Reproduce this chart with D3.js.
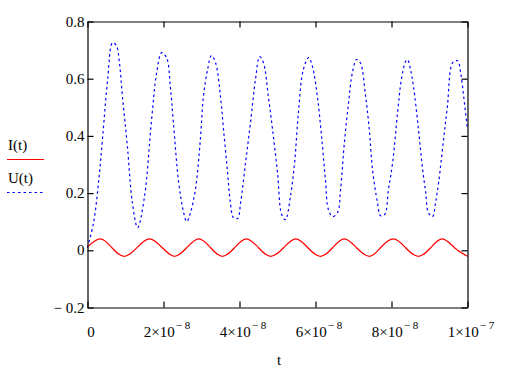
<!DOCTYPE html>
<html>
<head>
<meta charset="utf-8">
<script src="https://cdn.jsdelivr.net/npm/d3@7"></script>
<style>
  body { margin: 0; background: #fff; }
  svg text { font-family: "Liberation Serif", "Times New Roman", serif; }
</style>
</head>
<body>
<svg id="chart"></svg>
<script>
let width = 518;
let height = 371;

// time in ns
let tI = [0, 3.4, 6.5, 9.7, 13.1, 16.3, 19.7, 22.9, 26.1, 29.3, 32.4, 35.5, 38.7, 41.8, 45.0, 48.2,
    51.6, 54.8, 58.0, 61.3, 64.5, 67.6, 70.8, 74.2, 77.1, 80.5, 83.7, 87.1, 90.3, 93.4, 96.6, 100];
let iVals = [0.012, 0.040, 0.008, -0.021, 0.010, 0.040, 0.009, -0.021, 0.009, 0.040, 0.009, -0.021, 0.009, 0.040, 0.009, -0.021,
    0.009, 0.040, 0.009, -0.021, 0.009, 0.040, 0.009, -0.021, 0.009, 0.040, 0.009, -0.021, 0.009, 0.040, 0.009, -0.021];

let tU = [0, 1.6, 2.9, 4.0, 5.3, 6.6, 7.6, 8.4, 9.2, 10.5, 11.8, 13.2, 15.0, 16.8, 18.2, 19.5, 20.8, 21.8, 22.6, 24.0,
    25.3, 26.1, 27.1, 28.4, 29.7, 30.5, 31.6, 32.6, 33.7, 35.0, 35.8, 36.8, 37.6, 38.4, 39.5, 40.3, 41.6, 42.9, 44.2,
    45.3, 46.3, 47.6, 48.7, 50.0, 51.1, 52.1, 53.4, 54.5, 55.5, 56.8, 58.2, 59.2, 60.5, 61.6, 62.6, 63.4, 64.5, 65.8,
    66.6, 67.6, 68.7, 69.7, 70.8, 71.8, 73.2, 74.2, 75.0, 76.3, 77.1, 78.2, 79.2, 80.3, 81.6, 82.6, 83.7, 84.2, 85.0,
    85.8, 87.1, 88.2, 89.0, 89.7, 90.8, 91.6, 92.4, 93.7, 94.7, 96.1, 97.4, 98.2, 99.0, 100];
let uVals = [0.009, 0.097, 0.237, 0.398, 0.597, 0.726, 0.716, 0.656, 0.537, 0.363, 0.167, 0.079, 0.188, 0.447, 0.621, 0.691, 0.674, 0.572, 0.447, 0.237,
    0.132, 0.100, 0.132, 0.213, 0.387, 0.537, 0.632, 0.681, 0.656, 0.537, 0.422, 0.282, 0.167, 0.114, 0.111, 0.167, 0.307, 0.447, 0.597,
    0.677, 0.656, 0.537, 0.422, 0.272, 0.125, 0.107, 0.188, 0.307, 0.481, 0.632, 0.674, 0.642, 0.537, 0.398, 0.247, 0.142, 0.118, 0.132,
    0.212, 0.377, 0.516, 0.621, 0.667, 0.656, 0.537, 0.415, 0.282, 0.167, 0.121, 0.125, 0.212, 0.307, 0.481, 0.597, 0.660, 0.667, 0.632,
    0.572, 0.422, 0.282, 0.202, 0.132, 0.118, 0.167, 0.237, 0.387, 0.502, 0.656, 0.663, 0.621, 0.537, 0.422];

let yTicks = [-0.2, 0, 0.2, 0.4, 0.6, 0.8];
let yTickLabels = ["\u2212 0.2", "0", "0.2", "0.4", "0.6", "0.8"];
let xTicks = [0, 2e-8, 4e-8, 6e-8, 8e-8, 1e-7];
let xTickMant = ["0", "2\u00d710", "4\u00d710", "6\u00d710", "8\u00d710", "1\u00d710"];
let xTickExp = ["", "\u2212 8", "\u2212 8", "\u2212 8", "\u2212 8", "\u2212 7"];

let svg = d3.select("#chart")
    .attr("width", width)
    .attr("height", height);

let x = d3.scaleLinear().domain([0, 1e-7]).range([87, 467]);
let y = d3.scaleLinear().domain([-0.2, 0.8]).range([307, 21]);

let g = svg.append("g").attr("transform", "translate(0.5,0.5)");

// curves
let lineI = d3.line()
    .x((d, i) => x(tI[i] * 1e-9))
    .y(d => y(d))
    .curve(d3.curveNatural);
let lineU = d3.line()
    .x((d, i) => x(tU[i] * 1e-9))
    .y(d => y(d))
    .curve(d3.curveCatmullRom);

g.append("path")
    .attr("d", lineU(uVals))
    .attr("fill", "none")
    .attr("stroke", "#0000ff")
    .attr("stroke-width", 1.2)
    .attr("stroke-dasharray", "2.5,3");

g.append("path")
    .attr("d", lineI(iVals))
    .attr("fill", "none")
    .attr("stroke", "#ff0000")
    .attr("stroke-width", 1.2);

// frame with inward ticks
let axLeft = g.append("g").attr("transform", "translate(87,0)")
    .call(d3.axisLeft(y).tickValues(yTicks).tickSizeInner(-6).tickSizeOuter(0).tickPadding(3)
        .tickFormat((d, i) => yTickLabels[i]));
let axRight = g.append("g").attr("transform", "translate(467,0)")
    .call(d3.axisRight(y).tickValues(yTicks).tickSizeInner(-6).tickSizeOuter(0).tickFormat(""));
let axTop = g.append("g").attr("transform", "translate(0,21)")
    .call(d3.axisTop(x).tickValues(xTicks).tickSizeInner(-6).tickSizeOuter(0).tickFormat(""));
let axBottom = g.append("g").attr("transform", "translate(0,307)")
    .call(d3.axisBottom(x).tickValues(xTicks).tickSizeInner(-6).tickSizeOuter(0).tickFormat(""));

[axLeft, axRight, axTop, axBottom].forEach(a => {
    a.selectAll("path, line").attr("stroke", "#000").attr("stroke-width", 1.2);
});

axLeft.selectAll("text")
    .attr("font-family", "Liberation Serif")
    .attr("font-size", 15)
    .attr("fill", "#000")
    .attr("dy", "0.3em")
    .attr("x", -3);

// x tick labels with superscript exponents
let xl = svg.append("g");
xTicks.forEach((t, i) => {
    let txt = xl.append("text")
        .attr("x", x(t) + 4)
        .attr("y", 337)
        .attr("text-anchor", "middle")
        .attr("font-size", 15)
        .attr("fill", "#000");
    txt.append("tspan").text(xTickMant[i]);
    if (xTickExp[i]) {
        txt.append("tspan").attr("dy", -8).attr("dx", 1).attr("font-size", 11).text(xTickExp[i]);
    }
});

svg.append("text")
    .attr("x", 279)
    .attr("y", 365)
    .attr("text-anchor", "middle")
    .attr("font-size", 15)
    .text("t");

// legend
svg.append("text").attr("x", 8).attr("y", 150).attr("font-size", 15).text("I(t)");
svg.append("line").attr("x1", 7).attr("x2", 44).attr("y1", 159.5).attr("y2", 159.5)
    .attr("stroke", "#ff0000").attr("stroke-width", 1.2);
svg.append("text").attr("x", 8).attr("y", 183).attr("font-size", 15).text("U(t)");
svg.append("line").attr("x1", 7).attr("x2", 44).attr("y1", 192.5).attr("y2", 192.5)
    .attr("stroke", "#0000ff").attr("stroke-width", 1.2).attr("stroke-dasharray", "2.5,3");
</script>
</body>
</html>
